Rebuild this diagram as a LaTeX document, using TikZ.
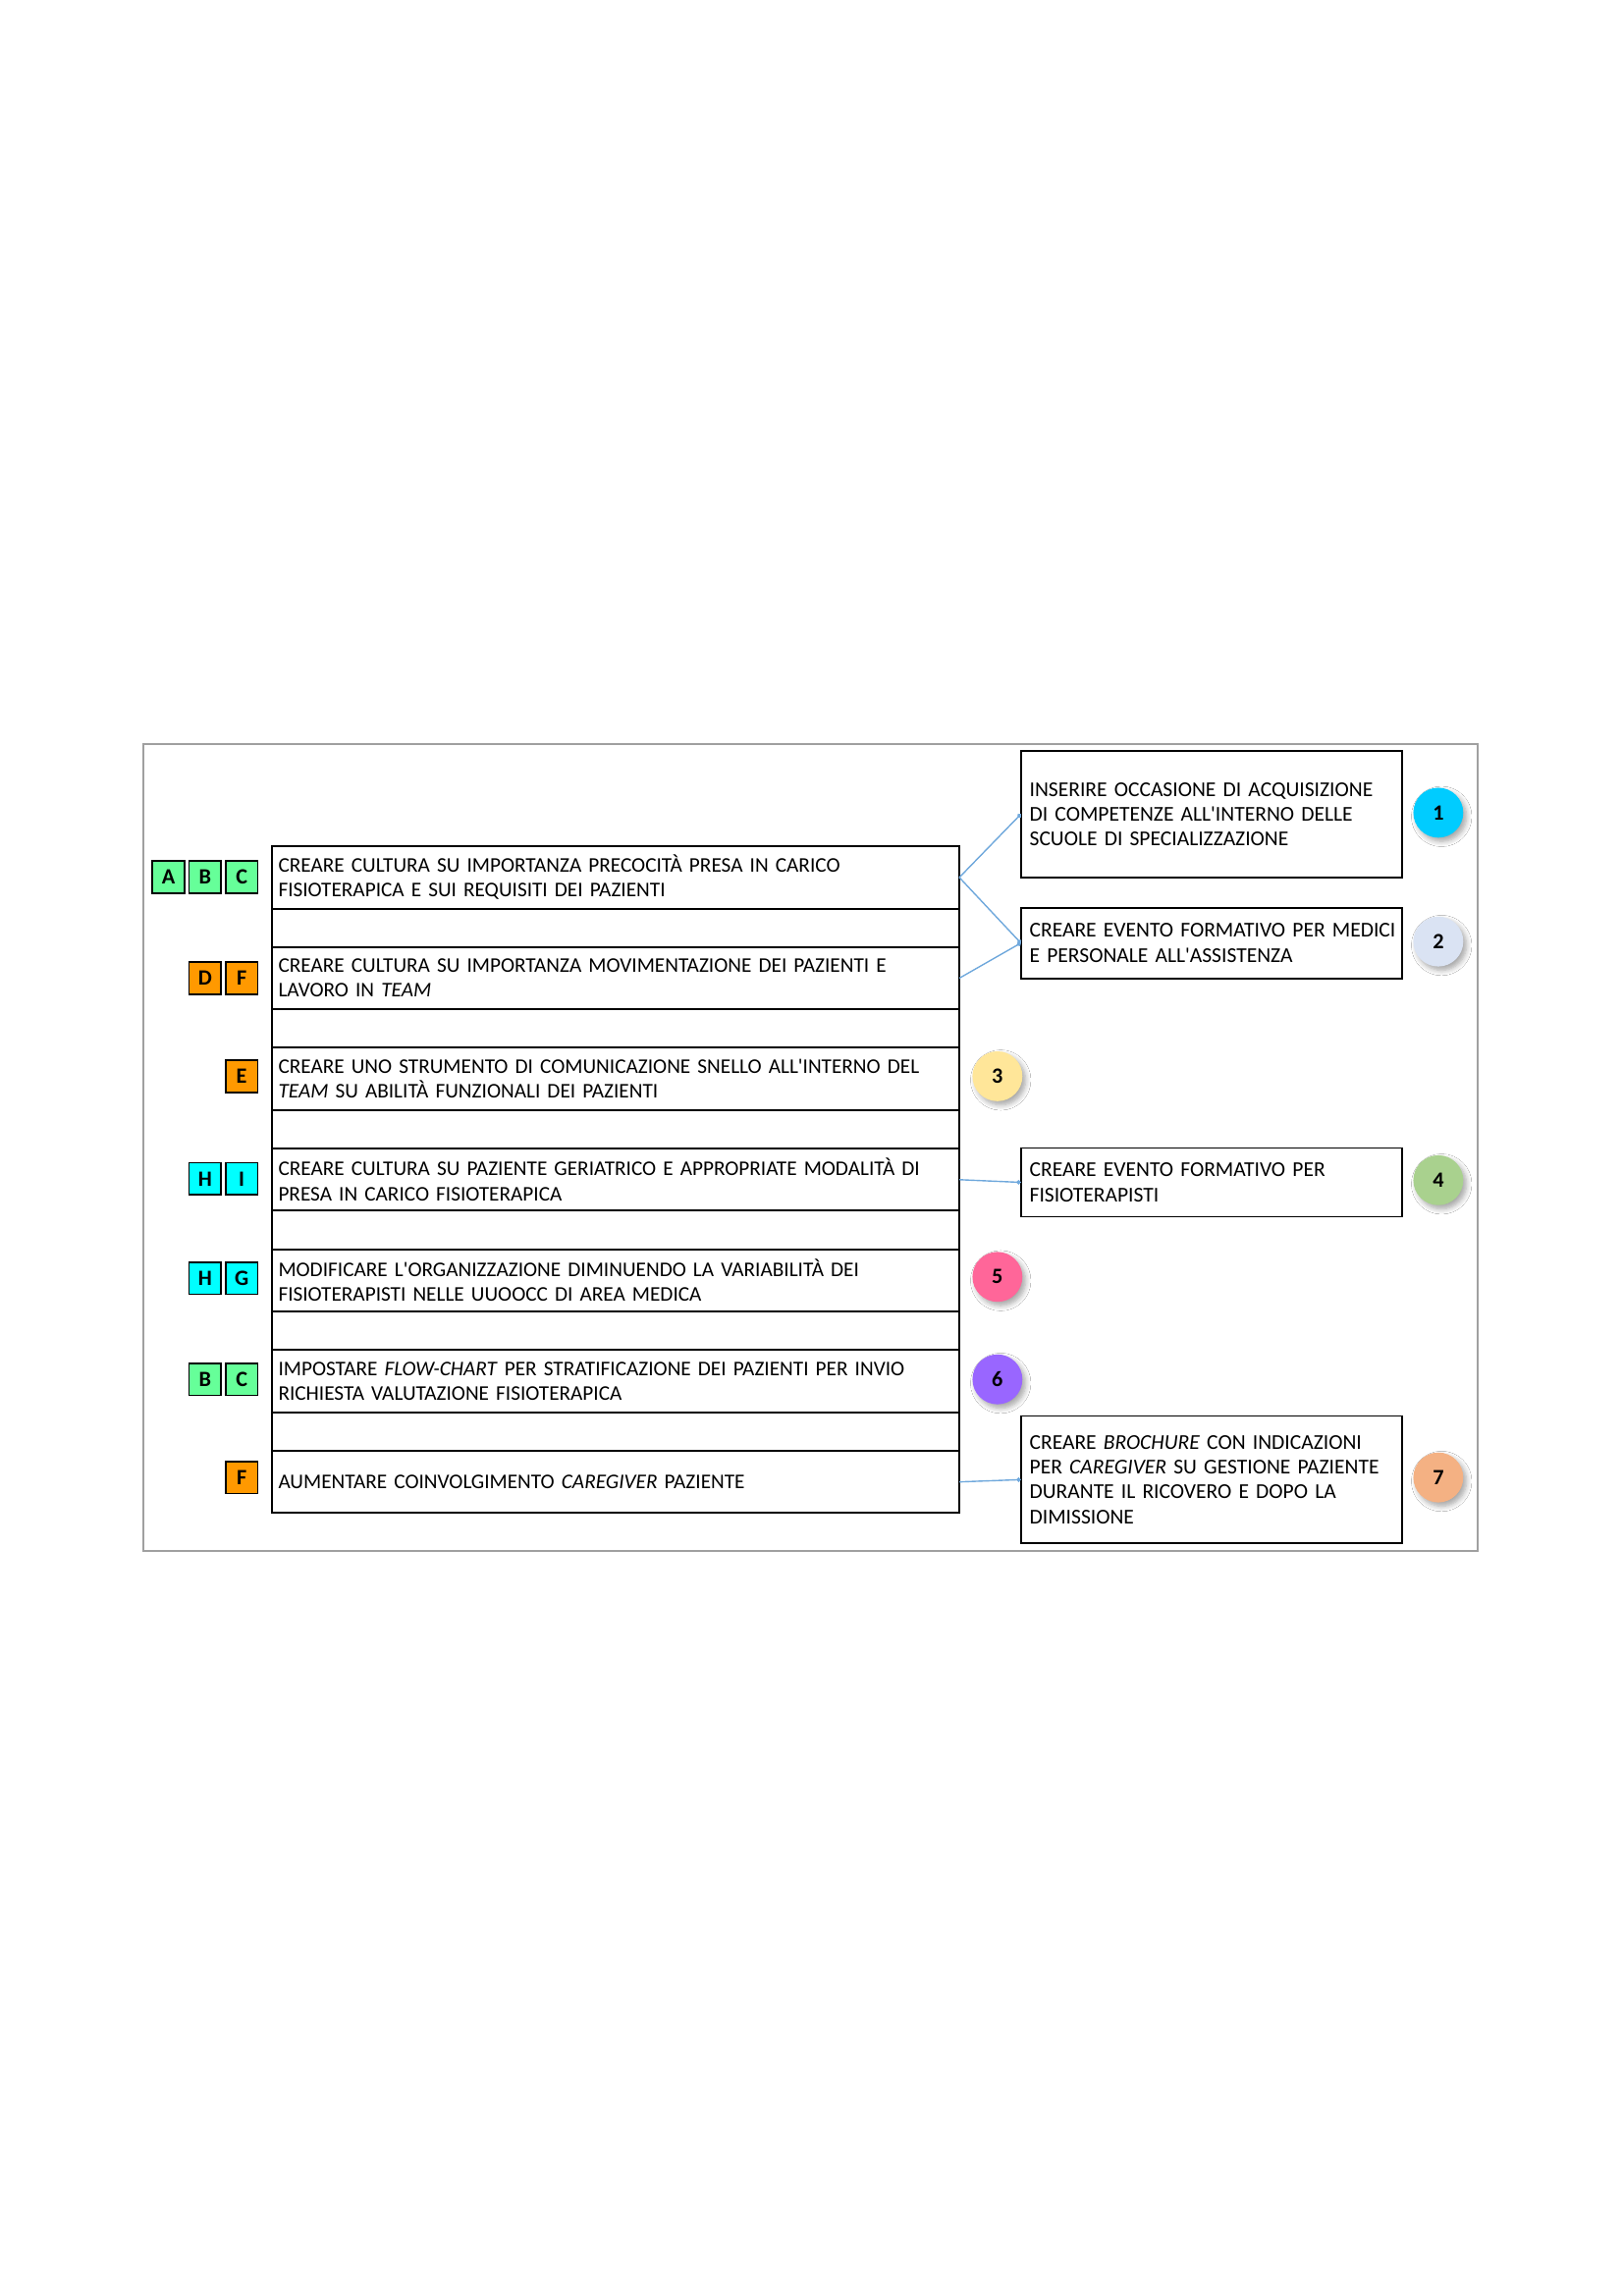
\documentclass[tikz,border=0pt]{standalone}
\usepackage{fontspec}
\setmainfont{Carlito}[Ligatures=TeXOff]
\usetikzlibrary{shadows.blur,arrows.meta}
\definecolor{tgreen}{HTML}{66FF99}
\definecolor{torange}{HTML}{FF9900}
\definecolor{tcyan}{HTML}{00FFFF}
\definecolor{cone}{HTML}{00CCFF}
\definecolor{ctwo}{HTML}{DAE3F3}
\definecolor{cthree}{HTML}{FFE699}
\definecolor{cfour}{HTML}{A9D18E}
\definecolor{cfive}{HTML}{FF6699}
\definecolor{csix}{HTML}{9966FF}
\definecolor{cseven}{HTML}{F4B183}
\definecolor{conn}{HTML}{6FA8DC}
\definecolor{framegray}{HTML}{A0A0A0}
\newcommand{\txt}{\fontsize{7.65}{9.1}\selectfont}
\newcommand{\rtxt}{\fontsize{7.75}{9.1}\selectfont}
\newcommand{\up}{\par\vspace{2pt}}
\tikzset{
  lbox/.style={draw, line width=0.7pt, rectangle, anchor=north west, outer sep=0pt,
    inner xsep=2.15pt, inner ysep=0pt, minimum width=251.85pt, text width=247.5pt,
    minimum height=22.8pt, align=left, font=\txt},
  ebox/.style={draw, line width=0.7pt, rectangle, anchor=north west, outer sep=0pt,
    inner sep=0pt, minimum width=251.85pt, minimum height=14.1pt},
  rbox/.style={draw, line width=0.7pt, rectangle, anchor=north west, outer sep=0pt,
    inner xsep=3.2pt, inner ysep=0pt, minimum width=139.6pt, text width=133.2pt,
    align=left, font=\rtxt},
  tag/.style={draw, line width=0.6pt, rectangle, minimum size=11.8pt, inner sep=0pt,
    font=\bfseries\fontsize{8}{9}\selectfont},
  num/.style={circle, minimum size=18.3pt, inner sep=0pt, font=\bfseries\fontsize{8}{9}\selectfont,
    blur shadow={shadow xshift=1.2pt, shadow yshift=-1.4pt, shadow blur steps=6, shadow opacity=35}},
  link/.style={draw=conn, line width=0.5pt, -{Circle[length=1.6pt]}}
}
\begin{document}
\begin{tikzpicture}[x=0.537pt,y=-0.537pt]
\useasboundingbox (0,0) rectangle (1108,1568);
\fill[white] (0,0) rectangle (1108,1568);
% outer frame
\draw[framegray, line width=0.6pt] (98,508) rectangle (1009,1059);

% left column boxes
\node[lbox] (L1) at (186,578.0) {CREARE CULTURA SU IMPORTANZA PRECOCITÀ PRESA IN CARICO\\FISIOTERAPICA E SUI REQUISITI DEI PAZIENTI\up};
\node[ebox] (E1) at (186,620.5) {};
\node[lbox] (L2) at (186,646.8) {CREARE CULTURA SU IMPORTANZA MOVIMENTAZIONE DEI PAZIENTI E\\LAVORO IN \textit{TEAM}\up};
\node[ebox] (E2) at (186,689.3) {};
\node[lbox] (L3) at (186,715.6) {CREARE UNO STRUMENTO DI COMUNICAZIONE SNELLO ALL'INTERNO DEL\\\textit{TEAM} SU ABILITÀ FUNZIONALI DEI PAZIENTI\up};
\node[ebox] (E3) at (186,758.1) {};
\node[lbox] (L4) at (186,784.4) {CREARE CULTURA SU PAZIENTE GERIATRICO E APPROPRIATE MODALITÀ DI\\PRESA IN CARICO FISIOTERAPICA\up};
\node[ebox] (E4) at (186,826.9) {};
\node[lbox] (L5) at (186,853.2) {MODIFICARE L'ORGANIZZAZIONE DIMINUENDO LA VARIABILITÀ DEI\\FISIOTERAPISTI NELLE UUOOCC DI AREA MEDICA\up};
\node[ebox] (E5) at (186,895.7) {};
\node[lbox] (L6) at (186,922.0) {IMPOSTARE \textit{FLOW-CHART} PER STRATIFICAZIONE DEI PAZIENTI PER INVIO\\RICHIESTA VALUTAZIONE FISIOTERAPICA\up};
\node[ebox] (E6) at (186,964.5) {};
\node[lbox] (L7) at (186,990.8) {AUMENTARE COINVOLGIMENTO \textit{CAREGIVER} PAZIENTE\up};

% right column boxes
\node[rbox, minimum height=46.2pt] (R1) at (697,513) {\mbox{INSERIRE OCCASIONE DI ACQUISIZIONE}\\\mbox{DI COMPETENZE ALL'INTERNO DELLE}\\SCUOLE DI SPECIALIZZAZIONE\up};
\node[rbox, minimum height=25.8pt] (R2) at (697,620) {\mbox{CREARE EVENTO FORMATIVO PER MEDICI}\\E PERSONALE ALL'ASSISTENZA\up};
\node[rbox, minimum height=25.2pt] (R4) at (697,784) {CREARE EVENTO FORMATIVO PER\\FISIOTERAPISTI\up};
\node[rbox, minimum height=46.7pt] (R7) at (697,967) {\mbox{CREARE \textit{BROCHURE} CON INDICAZIONI}\\\mbox{PER \textit{CAREGIVER} SU GESTIONE PAZIENTE}\\DURANTE IL RICOVERO E DOPO LA\\DIMISSIONE\up};

% tags
\node[tag, fill=tgreen] (tA) at (115,599) {A};
\node[tag, fill=tgreen] (tB1) at (140,599) {B};
\node[tag, fill=tgreen] (tC1) at (165,599) {C};
\node[tag, fill=torange] (tD) at (140,668) {D};
\node[tag, fill=torange] (tF1) at (165,668) {F};
\node[tag, fill=torange] (tE) at (165,735) {E};
\node[tag, fill=tcyan] (tH1) at (140,805) {H};
\node[tag, fill=tcyan] (tI) at (165,805) {I};
\node[tag, fill=tcyan] (tH2) at (140,873) {H};
\node[tag, fill=tcyan] (tG) at (165,873) {G};
\node[tag, fill=tgreen] (tB2) at (140,942) {B};
\node[tag, fill=tgreen] (tC2) at (165,942) {C};
\node[tag, fill=torange] (tF2) at (165,1009) {F};

% numbered circles
\node[num, fill=cone] (n1) at (982,555) {1};
\node[num, fill=ctwo] (n2) at (982,643) {2};
\node[num, fill=cthree] (n3) at (681,735) {3};
\node[num, fill=cfour] (n4) at (982,806) {4};
\node[num, fill=cfive] (n5) at (681,872) {5};
\node[num, fill=csix] (n6) at (681,942) {6};
\node[num, fill=cseven] (n7) at (982,1009) {7};

% connectors
\draw[link] (L1.east) -- (R1.west);
\draw[link] (L1.east) -- (R2.west);
\draw[link] (L2.east) -- (R2.west);
\draw[link] (L4.east) -- (R4.west);
\draw[link] (L7.east) -- (R7.west);
\end{tikzpicture}
\end{document}
